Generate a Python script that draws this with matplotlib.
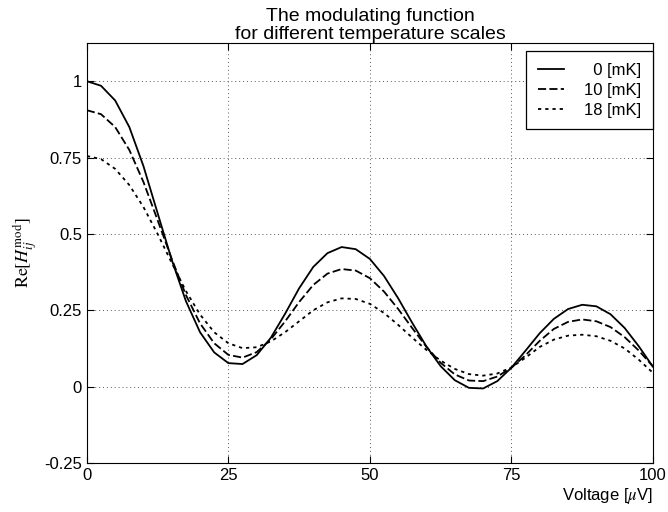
import matplotlib
matplotlib.use("Agg")
import matplotlib.pyplot as plt

plt.rcParams["font.family"] = ["Liberation Sans", "DejaVu Sans"]
plt.rcParams["mathtext.fontset"] = "stix"

# ---------------------------------------------------------
# data (voltage in uV)
# ---------------------------------------------------------
voltage = [0, 2.5, 5, 7.5, 10, 12.5, 15, 17.5, 20, 22.5,
           25, 27.5, 30, 32.5, 35, 37.5, 40, 42.5, 45, 47.5,
           50, 52.5, 55, 57.5, 60, 62.5, 65, 67.5, 70, 72.5,
           75, 77.5, 80, 82.5, 85, 87.5, 90, 92.5, 95, 97.5, 100]

re_0mk = [1.000, 0.985, 0.937, 0.850, 0.722, 0.568, 0.415, 0.280, 0.178, 0.112,
          0.077, 0.074, 0.103, 0.160, 0.238, 0.322, 0.392, 0.437, 0.457, 0.450,
          0.418, 0.362, 0.289, 0.208, 0.131, 0.067, 0.021, -0.004, -0.006, 0.018,
          0.062, 0.118, 0.175, 0.222, 0.254, 0.268, 0.263, 0.237, 0.192, 0.132, 0.065]

re_10mk = [0.905, 0.892, 0.850, 0.775, 0.670, 0.545, 0.418, 0.300, 0.207, 0.142,
           0.104, 0.095, 0.113, 0.155, 0.213, 0.277, 0.333, 0.370, 0.385, 0.380,
           0.355, 0.311, 0.254, 0.191, 0.130, 0.078, 0.040, 0.020, 0.018, 0.033,
           0.062, 0.103, 0.150, 0.189, 0.212, 0.220, 0.214, 0.195, 0.162, 0.118, 0.066]

re_18mk = [0.755, 0.745, 0.713, 0.660, 0.588, 0.500, 0.405, 0.313, 0.236, 0.178,
           0.142, 0.126, 0.129, 0.148, 0.178, 0.214, 0.250, 0.276, 0.289, 0.287,
           0.271, 0.241, 0.202, 0.160, 0.120, 0.085, 0.058, 0.041, 0.036, 0.043,
           0.063, 0.095, 0.130, 0.154, 0.167, 0.170, 0.165, 0.150, 0.125, 0.088, 0.045]

labels = ["  0 [mK]", "10 [mK]", "18 [mK]"]
x_ticks = [0, 25, 50, 75, 100]
y_ticks = [-0.25, 0, 0.25, 0.5, 0.75, 1]
y_tick_labels = ["-0.25", "0", "0.25", "0.5", "0.75", "1"]

fig = plt.figure(figsize=(6.68, 5.12), dpi=100)
ax = fig.add_axes([0.130, 0.0957, 0.8475, 0.8203])

ax.plot(voltage, re_0mk, color="black", lw=1.3, linestyle="-", label=labels[0])
ax.plot(voltage, re_10mk, color="black", lw=1.3, linestyle=(0, (4.5, 1.8)), label=labels[1])
ax.plot(voltage, re_18mk, color="black", lw=1.3, linestyle=(0, (1.8, 2.2)), label=labels[2])

ax.set_xlim(0, 100)
ax.set_ylim(-0.25, 1.125)
ax.set_xticks(x_ticks)
ax.set_yticks(y_ticks)
ax.set_yticklabels(y_tick_labels)
ax.tick_params(direction="in", top=True, right=True, length=5, labelsize=12)

ax.grid(True, color="0.35", linestyle=(0, (1, 3)), lw=0.7)

ax.set_title("The modulating function\nfor different temperature scales",
             fontsize=14, linespacing=1.1, pad=3)
ax.set_xlabel(r"Voltage [$\mu$V]", fontsize=12, loc="right", labelpad=2)
ax.set_ylabel(r"$\mathrm{Re}[H_{ij}^{\mathrm{mod}}]$", fontsize=13, labelpad=4)

leg = ax.legend(loc="upper right", bbox_to_anchor=(1.0, 0.981), borderaxespad=0,
                fontsize=12, fancybox=False, edgecolor="black", framealpha=1,
                handlelength=1.6, handletextpad=1.2, labelspacing=0.3, borderpad=0.7)
leg.get_frame().set_linewidth(0.9)

fig.savefig("out.png", dpi=100)
plt.close(fig)
